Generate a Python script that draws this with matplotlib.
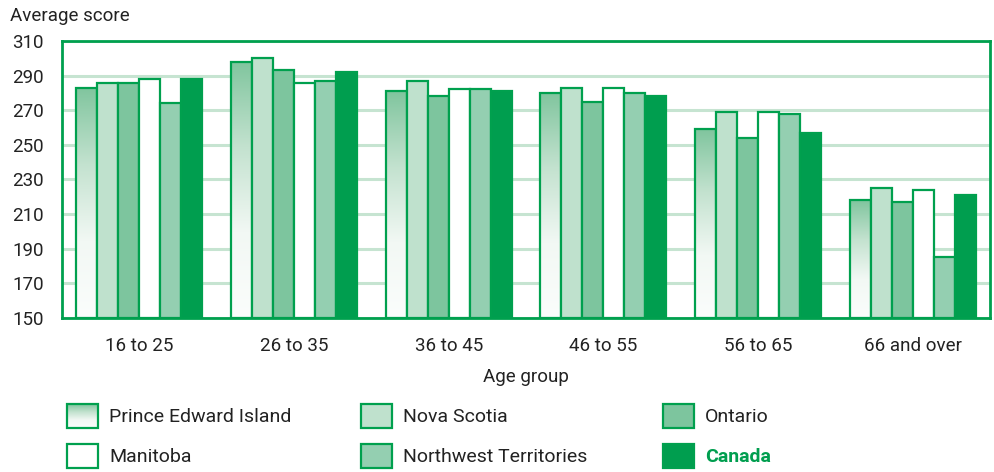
import numpy as np
import matplotlib.pyplot as plt
from matplotlib.patches import Rectangle
from matplotlib.colors import LinearSegmentedColormap

plt.rcParams['font.family'] = ['Roboto', 'DejaVu Sans']

age_groups = ['16 to 25', '26 to 35', '36 to 45', '46 to 55', '56 to 65', '66 and over']
provinces = ['Prince Edward Island', 'Nova Scotia', 'Ontario',
             'Manitoba', 'Northwest Territories', 'Canada']
scores = {
    'Prince Edward Island': [283, 298, 281, 280, 259, 218],
    'Nova Scotia': [286, 300, 287, 283, 269, 225],
    'Ontario': [286, 293, 278, 275, 254, 217],
    'Manitoba': [288, 286, 282, 283, 269, 224],
    'Northwest Territories': [274, 287, 282, 280, 268, 185],
    'Canada': [288, 292, 281, 278, 257, 221],
}

EDGE = '#00a04e'
GRID = '#c6e4d1'
TXT = '#222222'
fills = {
    'Prince Edward Island': None,   # gradient
    'Nova Scotia': '#bfe1cd',
    'Ontario': '#7dc59e',
    'Manitoba': '#ffffff',
    'Northwest Territories': '#94cfb1',
    'Canada': '#009e4f',
}
grad = LinearSegmentedColormap.from_list('peigrad', ['#fbfdfc', '#f2f8f4', '#c3e2cf', '#80c59e'])
gimg = np.linspace(0, 1, 256).reshape(-1, 1)

fig = plt.figure(figsize=(9.94, 4.72), dpi=100)
ax = fig.add_axes([62/994, 1-318/472, (990-62)/994, (318-41)/472])

x = np.arange(len(age_groups))
w = 0.136
for i, p in enumerate(provinces):
    pos = x + (i - 2.5) * w
    fc = fills[p] if fills[p] is not None else 'none'
    bars = ax.bar(pos, np.array(scores[p]) - 150, bottom=150, width=w,
                  facecolor=fc, edgecolor=EDGE, linewidth=1.6, zorder=3)
    if fills[p] is None:
        for b in bars:
            x0, y0 = b.get_x(), b.get_y()
            im = ax.imshow(gimg, cmap=grad, origin='lower', aspect='auto',
                           extent=[x0, x0 + b.get_width(), y0, y0 + b.get_height()],
                           zorder=2.5)
            im.set_clip_path(b)

ax.set_xlim(-0.5, 5.5)
ax.set_ylim(150, 310)
ax.set_yticks(range(150, 311, 20))
ax.set_xticks(x)
ax.set_xticklabels(age_groups)
ax.tick_params(length=0, labelsize=13.5, colors=TXT)
ax.tick_params(axis='x', pad=14)
ax.tick_params(axis='y', pad=13)
ax.grid(axis='y', color=GRID, linewidth=2.2, zorder=0)
for s in ax.spines.values():
    s.set_color(EDGE)
    s.set_linewidth(2)
ax.set_xlabel('Age group', fontsize=13.5, color=TXT, labelpad=9)
fig.text(10/994, 1-16/472, 'Average score', fontsize=13.5, color=TXT, va='center')

# legend
lax = fig.add_axes([0, 0, 1, 1], facecolor='none')
lax.set_xlim(0, 994)
lax.set_ylim(472, 0)
lax.axis('off')
cols = [67, 361, 663]
rows = [416, 456]
for i, p in enumerate(provinces):
    cx = cols[i % 3]
    cy = rows[i // 3]
    if fills[p] is None:
        r = Rectangle((cx, cy - 12), 31, 24, facecolor='none', edgecolor=EDGE, linewidth=1.6, zorder=3)
        lax.add_patch(r)
        im = lax.imshow(gimg, cmap=grad, aspect='auto', extent=[cx, cx + 31, cy - 12, cy + 12], zorder=2)
        im.set_clip_path(r)
    else:
        lax.add_patch(Rectangle((cx, cy - 12), 31, 24, facecolor=fills[p], edgecolor=EDGE, linewidth=1.6))
    if p == 'Canada':
        lax.text(cx + 42, cy + 1, p, fontsize=14, color='#009e4f', fontweight='bold', va='center')
    else:
        lax.text(cx + 42, cy + 1, p, fontsize=14, color=TXT, va='center')
lax.set_xlim(0, 994)
lax.set_ylim(472, 0)

fig.savefig('out.png', dpi=100)
